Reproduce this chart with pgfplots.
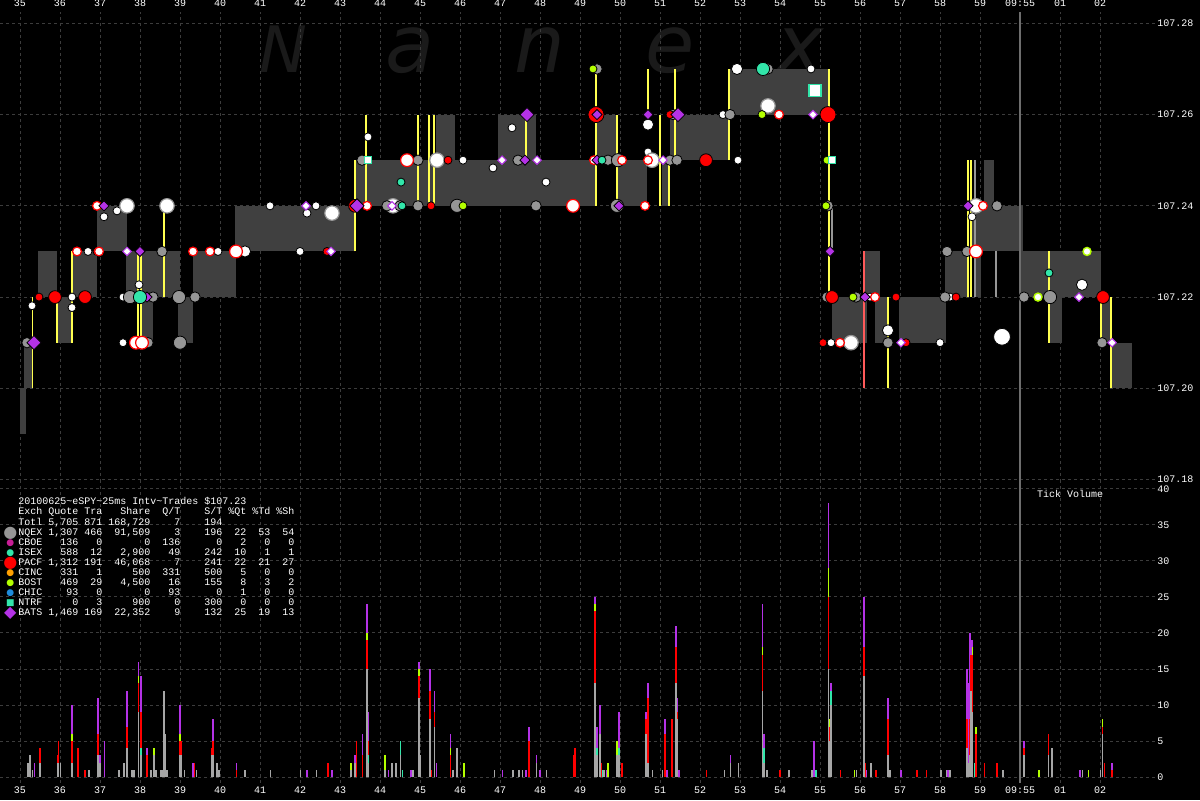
\documentclass[border=0pt]{standalone}
\usepackage{fontspec}
\setmainfont{Liberation Mono}
\newfontfamily\wmfont{DejaVu Sans}
\newfontfamily\symfont{DejaVu Sans}
\usepackage{pgfplots}
\usepackage{pgfplotstable}
\pgfplotsset{compat=1.18}

\definecolor{boxg}{RGB}{64,64,64}
\definecolor{gridc}{RGB}{60,60,60}
\definecolor{nq}{RGB}{150,150,150}
\definecolor{pa}{RGB}{255,0,0}
\definecolor{ba}{RGB}{180,50,230}
\definecolor{is}{RGB}{50,230,170}
\definecolor{bo}{RGB}{180,255,0}
\definecolor{yl}{RGB}{255,255,80}
\definecolor{cb}{RGB}{200,30,150}
\definecolor{ci}{RGB}{255,160,0}
\definecolor{ch}{RGB}{30,140,220}
\definecolor{wm}{RGB}{26,26,26}
\definecolor{vline}{RGB}{110,110,110}
\definecolor{salmon}{RGB}{255,90,90}

\newcommand{\bx}[4]{\addplot[fill=boxg, draw=none] coordinates {(#1,#3) (#2,#3) (#2,#4) (#1,#4)} -- cycle;}
\newcommand{\vl}[4][yl]{\addplot[#1, line width=0.6pt] coordinates {(#2,#3) (#2,#4)};}
\newcommand{\sym}[4]{\makebox[8pt]{\smash{\raisebox{#3}{\fontsize{#2}{#2}\selectfont\symfont\textcolor{#1}{#4}}}}}

\pgfplotstableread{
x g a r y p
35.19 2 2 2 2 2
35.24 3 3 3 3 3
35.31 1 1 1 1 1
35.36 0 0 0 0 2
35.49 2 2 4 4 4
35.94 2 2 3 3 3
35.96 0 0 5 5 5
36.01 2 2 2 2 2
36.29 2 2 5 6 10
36.44 0 0 4 4 4
36.63 0 0 1 1 1
36.72 1 1 1 1 1
36.94 3 3 6 6 11
36.99 2 2 2 2 3
37.11 0 0 0 0 5
37.47 1 1 1 1 1
37.59 2 2 2 2 2
37.68 4 4 7 7 12
37.80 1 1 1 1 1
37.85 1 1 1 1 1
37.96 9 9 13 14 16
38.02 3 4 9 9 14
38.18 0 0 3 3 4
38.28 1 1 1 1 1
38.34 3 3 3 4 4
38.40 1 1 1 1 1
38.52 1 1 1 1 1
38.55 1 1 1 1 1
38.60 12 12 12 12 12
38.63 6 6 6 6 6
38.68 1 1 1 1 1
39.00 3 3 5 6 10
39.02 3 3 5 5 5
39.11 1 1 1 1 1
39.33 0 0 0 0 2
39.36 0 0 2 2 2
39.41 1 1 1 1 1
39.79 3 3 4 4 4
39.82 3 3 5 5 8
39.92 2 2 2 2 2
39.97 1 1 1 1 1
40.41 0 0 1 1 2
40.63 1 1 1 1 1
41.26 1 1 1 1 1
42.01 1 1 1 1 1
42.17 0 0 0 0 1
42.41 1 1 1 1 1
42.69 0 0 2 2 2
42.80 0 0 0 0 1
43.28 1 1 1 2 2
43.38 2 2 2 2 3
43.41 0 0 5 5 5
43.56 0 0 3 3 6
43.67 15 15 19 20 24
43.70 2 3 5 5 9
44.13 1 1 1 3 3
44.21 0 0 0 0 1
44.29 2 2 2 2 2
44.40 2 2 2 2 2
44.51 3 5 5 5 5
44.56 0 1 1 1 1
44.78 0 0 0 0 1
44.83 1 1 1 1 1
44.98 11 11 14 15 16
45.01 3 3 3 3 3
45.24 8 8 12 12 15
45.28 0 0 1 1 1
45.36 7 7 9 9 12
45.41 0 0 0 0 2
45.76 0 0 3 4 6
45.82 1 1 1 1 1
45.91 0 0 1 1 1
45.93 4 4 4 4 4
46.10 0 0 0 2 2
46.86 1 1 1 1 1
47.06 0 0 0 0 1
47.32 1 1 1 1 1
47.48 1 1 1 1 1
47.56 1 1 1 1 1
47.64 0 0 0 0 1
47.73 0 0 5 5 7
47.91 2 2 2 2 3
47.99 0 0 0 0 1
48.16 1 1 1 1 1
48.84 0 0 3 3 3
48.87 0 0 4 4 4
49.38 13 13 23 24 25
49.43 3 4 4 4 7
49.50 6 6 6 6 10
49.52 0 0 2 2 2
49.56 0 1 1 1 1
49.60 1 1 1 1 1
49.66 0 0 0 0 1
49.69 0 0 0 2 2
49.93 3 3 3 5 5
49.98 3 4 4 4 9
50.05 0 0 2 2 2
50.65 6 6 8 8 9
50.70 2 2 11 11 13
50.81 1 1 1 1 1
51.06 1 1 1 1 1
51.13 0 0 6 6 8
51.17 0 0 0 0 1
51.29 0 0 8 8 8
51.39 13 13 18 18 21
51.43 8 8 9 9 11
51.48 0 0 0 0 1
52.16 0 0 1 1 1
52.61 1 1 1 1 1
52.76 2 2 2 2 3
52.96 2 2 2 2 2
53.56 12 12 17 18 24
53.59 2 4 4 4 6
53.67 1 1 1 1 1
53.99 0 0 1 1 1
54.23 1 1 1 1 1
54.79 1 1 1 1 1
54.84 0 0 0 0 5
54.89 0 1 1 1 1
55.21 15 15 25 29 38
55.24 5 5 7 8 8
55.27 10 12 12 12 13
55.51 0 0 1 1 1
55.86 0 0 0 1 1
55.91 1 1 1 1 1
56.10 14 14 18 18 25
56.13 0 0 2 2 2
56.16 0 0 0 0 1
56.28 2 2 2 2 2
56.39 0 0 1 1 1
56.70 3 3 8 8 11
56.74 1 1 1 1 1
57.03 0 0 0 0 1
57.42 0 0 1 1 1
57.66 0 0 1 1 1
58.02 1 1 1 1 1
58.16 1 1 1 1 1
58.20 0 0 0 0 1
58.25 1 1 1 1 1
58.68 4 4 8 8 15
58.72 2 2 2 2 13
58.75 3 3 8 8 20
58.78 12 12 17 17 19
58.81 9 9 17 18 19
58.86 0 2 2 2 2
58.90 0 0 6 7 7
59.11 0 0 2 2 2
59.43 0 0 2 2 2
59.57 1 1 1 1 1
60.10 3 3 4 4 5
60.48 0 0 0 1 1
60.71 3 3 6 6 6
60.79 4 4 4 4 4
60.81 0 1 1 1 1
61.49 0 0 0 0 1
61.56 1 1 1 1 1
61.71 0 0 0 1 1
62.01 1 1 1 1 1
62.06 6 6 7 8 8
62.11 0 0 2 2 2
62.30 0 0 1 1 2
}\voltab

\pgfplotsset{
  nanex/.style={
    scale only axis, width=577.5pt, xmin=34.5, xmax=63.375,
    axis line style={draw=none}, tick style={draw=none}, major tick length=0pt,
    grid=major, major grid style={gridc, dash pattern=on 1.5pt off 1.5pt, line width=0.5pt},
    xtick={35,...,62},
    xticklabels={35,36,37,38,39,40,41,42,43,44,45,46,47,48,49,50,51,52,53,54,55,56,57,58,59,09:55,01,02},
    yticklabel pos=right,
    every tick label/.append style={font=\fontsize{5}{6}\selectfont, text=white},
    /pgf/number format/assume math mode=true,
    yticklabel style={anchor=west, inner sep=0pt, xshift=1pt},
    clip=false,
  }
}

\begin{document}
\begin{tikzpicture}
\useasboundingbox (0,0) rectangle (600pt,400pt);
\fill[black] (0,0) rectangle (600pt,400pt);

% watermark
\node[anchor=base, text=wm, inner sep=0pt, font=\wmfont\itshape\fontsize{32}{32}\selectfont] at (141.5pt,363.5pt) {N};
\node[anchor=base, text=wm, inner sep=0pt, font=\wmfont\itshape\fontsize{40}{40}\selectfont] at (205pt,363.5pt) {a};
\node[anchor=base, text=wm, inner sep=0pt, font=\wmfont\itshape\fontsize{40}{40}\selectfont] at (270pt,363.5pt) {n};
\node[anchor=base, text=wm, inner sep=0pt, font=\wmfont\itshape\fontsize{40}{40}\selectfont] at (335pt,363.5pt) {e};
\node[anchor=base, text=wm, inner sep=0pt, font=\wmfont\itshape\fontsize{40}{40}\selectfont] at (400pt,363.5pt) {x};

% ===== price panel =====
\begin{axis}[nanex, at={(0,159pt)}, anchor=south west, height=235pt,
  ymin=107.17947, ymax=107.28248,
  xticklabel pos=top,
  xticklabel style={anchor=south, inner sep=0pt, yshift=2.5pt},
  ytick={107.18,107.2,107.22,107.24,107.26,107.28},
  yticklabels={107.18,107.20,107.22,107.24,107.26,107.28},
]
\bx{35.0}{35.15}{107.19}{107.20}
\bx{35.1}{35.3}{107.20}{107.21}
\bx{35.45}{35.925}{107.22}{107.23}
\bx{35.925}{36.3}{107.21}{107.22}
\bx{36.325}{36.925}{107.22}{107.23}
\bx{36.925}{37.675}{107.23}{107.24}
\bx{37.65}{38.325}{107.22}{107.23}
\bx{38.05}{38.325}{107.21}{107.22}
\bx{38.3}{39.0}{107.22}{107.23}
\bx{38.95}{39.325}{107.21}{107.22}
\bx{39.325}{40.4}{107.22}{107.23}
\bx{40.375}{43.375}{107.23}{107.24}
\bx{43.375}{45.875}{107.24}{107.25}
\bx{45.4}{45.875}{107.25}{107.26}
\bx{45.875}{47.875}{107.24}{107.25}
\bx{46.95}{47.9}{107.25}{107.26}
\bx{47.875}{49.375}{107.24}{107.25}
\bx{49.425}{49.925}{107.25}{107.26}
\bx{49.925}{50.675}{107.24}{107.25}
\bx{51.05}{51.225}{107.24}{107.25}
\bx{51.25}{52.725}{107.25}{107.26}
\bx{52.725}{55.2}{107.26}{107.27}
\bx{55.3}{56.175}{107.21}{107.22}
\bx{56.1}{56.5}{107.22}{107.23}
\bx{56.375}{56.7}{107.21}{107.22}
\bx{56.975}{58.15}{107.21}{107.22}
\bx{58.125}{58.7}{107.22}{107.23}
\bx{59.1}{59.35}{107.24}{107.25}
\bx{58.8}{60.075}{107.23}{107.24}
\bx{58.9}{59.025}{107.22}{107.23}
\bx{59.975}{62.025}{107.22}{107.23}
\bx{60.725}{61.05}{107.21}{107.22}
\bx{62.05}{62.3}{107.21}{107.22}
\bx{62.3}{62.8}{107.20}{107.21}
% 09:55 line
\addplot[vline, line width=0.6pt] coordinates {(60,107.17947) (60,107.28248)};
% vertical trade lines
\vl{35.31}{107.20}{107.22}
\vl{35.925}{107.21}{107.22}
\vl{36.3}{107.21}{107.23}
\vl{37.95}{107.21}{107.23}
\vl{38.025}{107.21}{107.23}
\vl{38.6}{107.22}{107.24}
\vl{43.375}{107.23}{107.25}
\vl{43.65}{107.24}{107.26}
\vl{44.95}{107.24}{107.26}
\vl{45.225}{107.24}{107.26}
\vl{45.35}{107.24}{107.26}
\vl{47.65}{107.25}{107.26}
\vl{49.4}{107.24}{107.27}
\vl{49.925}{107.24}{107.26}
\vl{50.7}{107.26}{107.27}
\vl{51.0}{107.24}{107.26}
\vl{51.225}{107.24}{107.25}
\vl{51.375}{107.25}{107.27}
\vl{52.725}{107.25}{107.27}
\vl{55.225}{107.22}{107.27}
\vl{56.7}{107.20}{107.22}
\vl{58.7}{107.22}{107.25}
\vl{58.775}{107.22}{107.25}
\vl{60.725}{107.21}{107.23}
\vl{62.025}{107.21}{107.22}
\vl{62.275}{107.20}{107.22}
\vl[salmon]{56.1}{107.20}{107.23}
\vl[nq]{59.4}{107.22}{107.23}
\vl[nq]{58.875}{107.22}{107.25}
\vl[nq]{55.3}{107.23}{107.24}
% white small
\addplot[only marks, mark=*, mark size=2pt, mark options={fill=white, draw=none}] table {
37.1 107.2376
37.425 107.2389
35.3 107.2181
36.3 107.22
36.3 107.2177
36.7 107.23
37.575 107.22
37.975 107.2227
37.575 107.21
39.95 107.23
41.25 107.24
42.0 107.23
42.175 107.2384
42.4 107.24
43.7 107.2551
46.075 107.25
46.825 107.2483
47.3 107.2571
48.15 107.2452
50.7 107.2518
52.575 107.26
52.95 107.25
54.775 107.27
55.275 107.21
56.25 107.22
58.0 107.21
58.25 107.22
58.8 107.2376
};
% white medium
\addplot[only marks, mark=*, mark size=2.8pt, mark options={fill=white, draw=none}] table {
40.625 107.23
50.7 107.2578
52.925 107.27
56.7 107.2127
61.55 107.2227
};
% white big, grey rim
\addplot[only marks, mark=*, mark size=3.6pt, mark options={fill=white, draw=nq, line width=0.6pt}] table {
37.675 107.24
38.675 107.24
42.8 107.2384
44.325 107.24
45.425 107.25
50.8 107.25
53.7 107.2619
55.775 107.21
58.9 107.24
};
\addplot[only marks, mark=*, mark size=4.2pt, mark options={fill=white, draw=none}] table {
59.55 107.2113
};
% NQEX grey
\addplot[only marks, mark=*, mark size=2.6pt, mark options={fill=nq, draw=none}] table {
35.175 107.21
38.325 107.22
38.2 107.21
39.375 107.22
43.55 107.25
44.175 107.24
44.5 107.24
44.95 107.24
44.95 107.25
47.45 107.25
47.9 107.24
49.425 107.27
49.7 107.25
51.25 107.25
51.425 107.25
51.325 107.26
52.75 107.26
53.7 107.27
55.175 107.22
55.2 107.24
55.9 107.22
56.7 107.21
58.125 107.22
58.175 107.23
58.675 107.23
59.425 107.24
60.1 107.22
62.05 107.21
38.55 107.23
};
\addplot[only marks, mark=*, mark size=3.3pt, mark options={fill=nq, draw=none}] table {
37.75 107.22
38.975 107.22
39.0 107.21
45.925 107.24
49.95 107.25
49.925 107.24
60.75 107.22
};
% PACF red
\addplot[only marks, mark=*, mark size=2pt, mark options={fill=pa, draw=none}] table {
35.475 107.22
36.925 107.23
42.675 107.23
45.275 107.24
45.7 107.25
51.25 107.26
55.075 107.21
56.9 107.22
57.15 107.21
58.4 107.22
55.25 107.23
};
\addplot[only marks, mark=*, mark size=3.2pt, mark options={fill=pa, draw=none}] table {
35.875 107.22
36.625 107.22
43.375 107.24
52.15 107.25
55.3 107.22
62.075 107.22
};
\addplot[only marks, mark=*, mark size=4pt, mark options={fill=pa, draw=none}] table {
49.4 107.26
55.2 107.26
};
% white with red rim
\addplot[only marks, mark=*, mark size=2.2pt, mark options={fill=white, draw=pa, line width=0.6pt}] table {
36.925 107.24
36.425 107.23
36.975 107.23
39.325 107.23
39.75 107.23
43.675 107.24
49.35 107.25
50.05 107.25
50.7 107.25
50.625 107.24
53.975 107.26
55.5 107.21
56.375 107.22
59.075 107.24
};
\addplot[only marks, mark=*, mark size=3.2pt, mark options={fill=white, draw=pa, line width=0.6pt}] table {
40.4 107.23
37.9 107.21
38.05 107.21
44.675 107.25
48.825 107.24
58.9 107.23
};
% BATS diamonds
\addplot[only marks, mark=square*, mark size=1.8pt, mark options={rotate=45, fill=ba, draw=none}] table {
37.1 107.24
38.0 107.23
38.175 107.22
47.625 107.25
49.425 107.26
49.975 107.24
50.7 107.26
55.25 107.23
56.125 107.22
58.7 107.24
49.425 107.25
};
\addplot[only marks, mark=square*, mark size=2.5pt, mark options={rotate=45, fill=ba, draw=none}] table {
35.35 107.21
43.425 107.24
47.675 107.26
51.45 107.26
};
\addplot[only marks, mark=square*, mark size=1.5pt, mark options={rotate=45, fill=white, draw=ba, line width=0.5pt}] table {
37.675 107.23
42.15 107.24
42.775 107.23
44.3 107.24
47.05 107.25
47.925 107.25
51.075 107.25
54.825 107.26
57.025 107.21
61.475 107.22
62.3 107.21
};
% ISEX
\addplot[only marks, mark=*, mark size=2pt, mark options={fill=is, draw=none}] table {
44.525 107.2452
44.55 107.24
49.55 107.25
60.725 107.2253
};
\addplot[only marks, mark=*, mark size=3.3pt, mark options={fill=is, draw=none}] table {
38.0 107.22
53.575 107.27
};
% BOST
\addplot[only marks, mark=*, mark size=2pt, mark options={fill=bo, draw=none}] table {
46.075 107.24
49.325 107.27
53.55 107.26
55.175 107.25
55.825 107.22
55.15 107.24
};
\addplot[only marks, mark=*, mark size=2pt, mark options={fill=white, draw=bo, line width=0.7pt}] table {
60.45 107.22
61.675 107.23
};
% NTRF squares
\addplot[only marks, mark=square*, mark size=1.7pt, mark options={fill=white, draw=is, line width=0.5pt}] table {
43.7 107.25
55.3 107.25
};
\addplot[only marks, mark=square*, mark size=3pt, mark options={fill=white, draw=is, line width=0.6pt}] table {
54.875 107.2652
};
\end{axis}

% ===== volume panel =====
\begin{axis}[nanex, at={(0,8.5pt)}, anchor=south west, height=150.5pt,
  ymin=-0.833, ymax=40.97,
  xticklabel style={anchor=north, inner sep=0pt, yshift=-1.8pt},
  ytick={0,5,...,40},
]
\addplot[vline, line width=0.6pt] coordinates {(60,-0.833) (60,40.97)};
\addplot[ycomb, ba, line width=0.9pt, mark=none] table[x=x, y=p] \voltab;
\addplot[ycomb, bo, line width=0.9pt, mark=none] table[x=x, y=y] \voltab;
\addplot[ycomb, pa, line width=0.9pt, mark=none] table[x=x, y=r] \voltab;
\addplot[ycomb, is, line width=0.9pt, mark=none] table[x=x, y=a] \voltab;
\addplot[ycomb, nq!85!white, line width=0.9pt, mark=none] table[x=x, y=g] \voltab;
\end{axis}

\node[anchor=center, text=white, inner sep=0pt, font=\fontsize{5}{6}\selectfont] at (535pt,153pt) {Tick Volume};

% legend table
\node[anchor=north west, inner sep=0pt, text=white, font=\fontsize{5}{5}\selectfont] at (1pt,151.5pt) {%
\renewcommand{\arraystretch}{1}%
\begin{tabular}{@{}l@{}l@{\hspace{3pt}}r@{\hspace{3pt}}r@{\hspace{3pt}}r@{\hspace{6pt}}r@{\hspace{12pt}}r@{\hspace{3pt}}r@{\hspace{3pt}}r@{\hspace{3pt}}r@{}}
\makebox[8pt]{} & \multicolumn{9}{@{}l@{}}{20100625\textasciitilde eSPY\textasciitilde 25ms Intv\textasciitilde Trades \$107.23}\\
 & Exch & Quote & Tra & Share & Q/T & S/T & \%Qt & \%Td & \%Sh\\
 & Totl & 5,705 & 871 & 168,729 & 7 & 194 & & & \\
\sym{nq}{8}{-1.1pt}{●} & NQEX & 1,307 & 466 & 91,509 & 3 & 196 & 22 & 53 & 54\\
\sym{cb}{4.5}{0pt}{●} & CBOE & 136 & 0 & 0 & 136 & 0 & 2 & 0 & 0\\
\sym{is}{4.5}{0pt}{●} & ISEX & 588 & 12 & 2,900 & 49 & 242 & 10 & 1 & 1\\
\sym{pa}{8}{-1.1pt}{●} & PACF & 1,312 & 191 & 46,068 & 7 & 241 & 22 & 21 & 27\\
\sym{ci}{4.5}{0pt}{●} & CINC & 331 & 1 & 500 & 331 & 500 & 5 & 0 & 0\\
\sym{bo}{4.5}{0pt}{●} & BOST & 469 & 29 & 4,500 & 16 & 155 & 8 & 3 & 2\\
\sym{ch}{4.5}{0pt}{●} & CHIC & 93 & 0 & 0 & 93 & 0 & 1 & 0 & 0\\
\sym{is}{4.5}{0pt}{■} & NTRF & 0 & 3 & 900 & 0 & 300 & 0 & 0 & 0\\
\sym{ba}{8}{-1.1pt}{◆} & BATS & 1,469 & 169 & 22,352 & 9 & 132 & 25 & 19 & 13\\
\end{tabular}};
\end{tikzpicture}
\end{document}
